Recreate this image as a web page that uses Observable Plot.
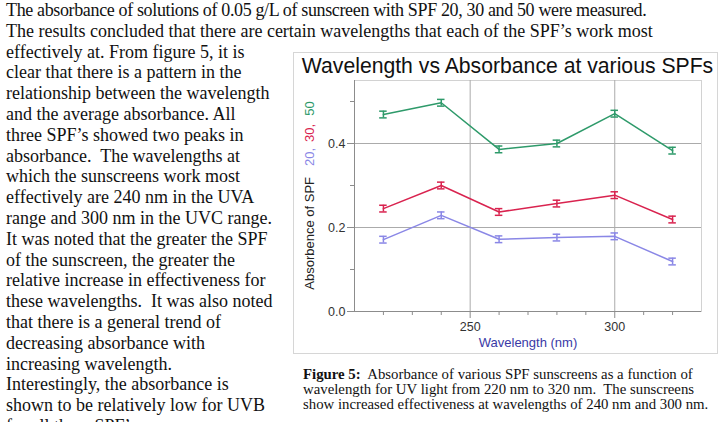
<!DOCTYPE html>
<html>
<head>
<meta charset="utf-8">
<script src="https://cdn.jsdelivr.net/npm/d3@7"></script>
<script src="https://cdn.jsdelivr.net/npm/@observablehq/plot@0.6"></script>
<style>
  html, body { margin: 0; padding: 0; background: #fff; }
  body { width: 720px; height: 422px; overflow: hidden; position: relative; }
  .para { position: absolute; font-family: "Liberation Serif", "Times New Roman", serif; color: #111; white-space: pre; }
  #intro { left: 6px; top: 0px; font-size: 18px; line-height: 20.8px; }
  #intro .tight { letter-spacing: -0.36px; }
  #figbox { position: absolute; left: 293px; top: 52px; width: 425px; height: 302px; border: 1px solid #d6d6d6; box-sizing: border-box; }
  #title { position: absolute; left: 293px; top: 53px; width: 429px; text-align: center; font-family: "Liberation Sans", Arial, sans-serif; font-size: 21.2px; line-height: 25px; color: #111; white-space: nowrap; }
  #chart { position: absolute; left: 290px; top: 75px; }
  #caption { left: 303px; top: 367px; font-size: 14.8px; line-height: 15px; }
</style>
</head>
<body>
<div id="intro" class="para"><span class="tight">The absorbance of solutions of 0.05 g/L of sunscreen with SPF 20, 30 and 50 were measured.</span>
The results concluded that there are certain wavelengths that each of the SPF’s work most
effectively at. From figure 5, it is
clear that there is a pattern in the
relationship between the wavelength
and the average absorbance. All
three SPF’s showed two peaks in
absorbance.  The wavelengths at
which the sunscreens work most
effectively are 240 nm in the UVA
range and 300 nm in the UVC range.
It was noted that the greater the SPF
of the sunscreen, the greater the
relative increase in effectiveness for
these wavelengths.  It was also noted
that there is a general trend of
decreasing absorbance with
increasing wavelength.
Interestingly, the absorbance is
shown to be relatively low for UVB
for all three SPF’s.</div>
<div id="figbox"></div>
<div id="title">Wavelength vs Absorbance at various SPFs</div>
<div id="chart"></div>
<div id="caption" class="para"><b>Figure 5:</b>  Absorbance of various SPF sunscreens as a function of
wavelength for UV light from 220 nm to 320 nm.  The sunscreens
show increased effectiveness at wavelengths of 240 nm and 300 nm.</div>
<script>
// Measured absorbance (mean) at each wavelength, one array per sunscreen
const wavelengths = [220, 240, 260, 280, 300, 320];
const spf20 = [0.171, 0.229, 0.172, 0.176, 0.179, 0.119];
const spf30 = [0.245, 0.300, 0.237, 0.257, 0.277, 0.219];
const spf50 = [0.469, 0.497, 0.386, 0.400, 0.471, 0.383];
// Uncertainty (± absorbance) shown as error bars
const err20 = [0.008, 0.008, 0.008, 0.008, 0.008, 0.008];
const err30 = [0.008, 0.008, 0.008, 0.008, 0.008, 0.008];
const err50 = [0.008, 0.008, 0.008, 0.008, 0.008, 0.008];

const seriesNames = ["20", "30", "50"];
const seriesColors = ["#8a87e6", "#d9234f", "#2e9a6a"];

const xDomain = [210, 330];
const yDomain = [0, 0.55];
const xTicks = [250, 300];
const xMinorTicks = [220, 230, 240, 260, 270, 280, 290, 310, 320];
const yTicks = [0, 0.2, 0.4];
const yMinorTicks = [0.1, 0.3, 0.5];
const xLabel = "Wavelength (nm)";
const yLabelParts = ["Absorbence of SPF", "20,", "30,", "50"];

const series = [
  {name: seriesNames[0], values: spf20, errs: err20},
  {name: seriesNames[1], values: spf30, errs: err30},
  {name: seriesNames[2], values: spf50, errs: err50}
];
const rows = series.flatMap(s => wavelengths.map((w, i) => ({
  series: s.name, wavelength: w, absorbance: s.values[i], err: s.errs[i]
})));

const capHalf = 1.3; // half-width of error bar caps, in nm
const axisGray = "#8c8c8c";
const gridGray = "#ababab";

const chart = Plot.plot({
  width: 430,
  height: 279,
  marginLeft: 64,
  marginRight: 19,
  marginTop: 5,
  marginBottom: 43,
  style: {fontFamily: "Liberation Sans, Arial, sans-serif", background: "transparent"},
  x: {domain: xDomain},
  y: {domain: yDomain},
  color: {domain: seriesNames, range: seriesColors},
  marks: [
    Plot.frame({stroke: "#d2d2d2"}),
    Plot.gridX(xTicks, {stroke: gridGray, strokeOpacity: 1}),
    Plot.gridY(yTicks.filter(v => v > 0), {stroke: gridGray, strokeOpacity: 1}),
    Plot.axisX(xTicks, {tickSize: 7, tickPadding: 4, stroke: axisGray, fill: "#333", fontSize: 12.5, label: null}),
    Plot.axisX(xMinorTicks, {tickSize: 4, tickFormat: () => "", stroke: axisGray, label: null}),
    Plot.axisY(yTicks, {tickSize: 7, tickPadding: 2, tickFormat: d3.format(".1f"), stroke: axisGray, fill: "#333", fontSize: 12.5, label: null}),
    Plot.axisY(yMinorTicks, {tickSize: 4, tickFormat: () => "", stroke: axisGray, label: null}),
    Plot.ruleY([yDomain[0]], {stroke: axisGray}),
    Plot.ruleX([xDomain[0]], {stroke: axisGray}),
    Plot.line(rows, {x: "wavelength", y: "absorbance", z: "series", stroke: "series", strokeWidth: 1.5}),
    Plot.ruleX(rows, {x: "wavelength", y1: d => d.absorbance - d.err, y2: d => d.absorbance + d.err, stroke: "series", strokeWidth: 1.5}),
    Plot.ruleY(rows, {y: d => d.absorbance - d.err, x1: d => d.wavelength - capHalf, x2: d => d.wavelength + capHalf, stroke: "series", strokeWidth: 1.5}),
    Plot.ruleY(rows, {y: d => d.absorbance + d.err, x1: d => d.wavelength - capHalf, x2: d => d.wavelength + capHalf, stroke: "series", strokeWidth: 1.5}),
    Plot.text([xLabel], {frameAnchor: "bottom", dy: 35, fill: "#3a3aa6", fontSize: 13})
  ]
});

// Y axis title: black prefix followed by each SPF value in its series colour
const yRange = chart.scale("y").range;
const yMid = (yRange[0] + yRange[1]) / 2;
const label = d3.select(chart).append("text")
  .attr("transform", `translate(19,${yMid}) rotate(-90)`)
  .attr("text-anchor", "middle")
  .attr("dominant-baseline", "central")
  .attr("font-size", 13)
  .attr("font-family", "Liberation Sans, Arial, sans-serif");
const gaps = [0, 11, 6, 8];
const partColors = ["#222", ...seriesColors];
yLabelParts.forEach((t, i) => {
  label.append("tspan").attr("dx", gaps[i]).attr("fill", partColors[i]).text(t);
});

document.getElementById("chart").appendChild(chart);
</script>
</body>
</html>
